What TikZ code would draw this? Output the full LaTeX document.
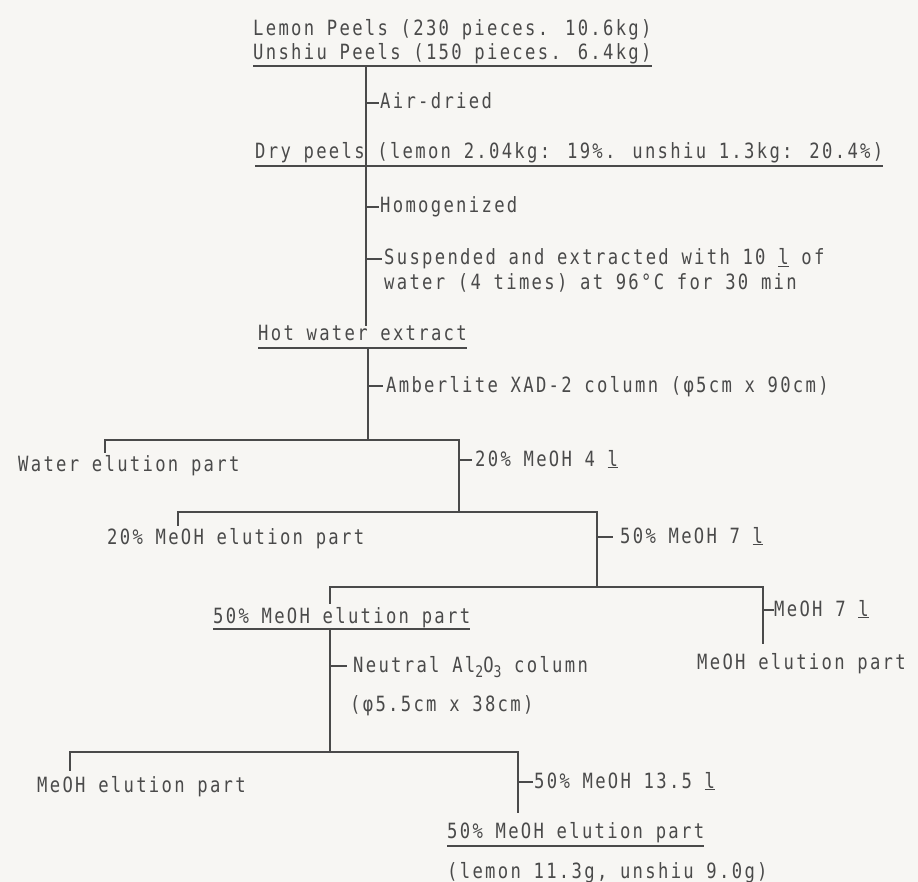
\documentclass[tikz,border=0pt]{standalone}
\usepackage{fontspec}
\newfontfamily\mono[FakeStretch=0.82,LetterSpace=11]{DejaVu Sans Mono}
\usetikzlibrary{calc}
\definecolor{ink}{HTML}{4A4A4A}
\definecolor{paper}{HTML}{F7F6F3}
\newcommand\sbs[1]{\raisebox{-5pt}{\fontsize{16}{16}\selectfont #1}}
\newcommand\lit{\underline{l}}
\begin{document}
\begin{tikzpicture}[x=1pt,y=-1pt,
  txt/.style={anchor=base west,inner sep=0pt,text=ink,font=\mono\fontsize{21}{25}\selectfont},
  ln/.style={draw=ink,line width=1.5pt,line cap=rect},
  ul/.style={draw=ink,line width=1.3pt}]
\fill[paper] (0,0) rectangle (918,882);
\useasboundingbox (0,0) rectangle (918,882);
% top
\node[txt] (p1) at (253,36) {Lemon Peels (230 pieces. 10.6kg)};
\node[txt] (p2) at (253,60) {Unshiu Peels (150 pieces. 6.4kg)};
\draw[ul] ($(p2.base west)+(0,6)$) -- ($(p2.base east)+(0,6)$);
\coordinate (v0) at (366,66);
\coordinate (v1) at (366,166);
\draw[ln] (v0) -- (v1);
\coordinate (k1) at (366,103);
\draw[ln] (k1) -- ++(12,0);
\node[txt] (air) at (380,109) {Air-dried};
\node[txt] (dry) at (255,159) {Dry peels (lemon 2.04kg: 19\%. unshiu 1.3kg: 20.4\%)};
\draw[ul] ($(dry.base west)+(0,7)$) -- ($(dry.base east)+(0,7)$);
\coordinate (k2) at (366,207);
\draw[ln] (k2) -- ++(12,0);
\node[txt] (hom) at (380,213) {Homogenized};
\coordinate (k3) at (366,259);
\draw[ln] (k3) -- ++(15,0);
\node[txt] (sus) at (384,265) {Suspended and extracted with 10 \lit{} of};
\node[txt] (wat) at (384,290) {water (4 times) at 96°C for 30 min};
\node[txt] (hot) at (258,341) {Hot water extract};
\draw[ul] ($(hot.base west)+(0,7)$) -- ($(hot.base east)+(0,7)$);
\draw[ln] (v1) -- (v1 |- hot.north);
% amberlite
\coordinate (v2) at (368,348);
\coordinate (j1) at (368,440);
\draw[ln] (v2) -- (j1);
\coordinate (k4) at (368,386);
\draw[ln] (k4) -- ++(14,0);
\node[txt] (amb) at (386,392) {Amberlite XAD-2 column (φ5cm x 90cm)};
% first split
\coordinate (h1l) at (105,440);
\coordinate (h1r) at (459,440);
\draw[ln] (h1l) -- (h1r);
\draw[ln] (h1l) -- ++(0,12);
\node[txt] (wep) at (18,471) {Water elution part};
\coordinate (j2) at (459,512);
\draw[ln] (h1r) -- (j2);
\coordinate (k5) at (459,460);
\draw[ln] (k5) -- ++(12,0);
\node[txt] (m20) at (475,466) {20\% MeOH 4 \lit};
% second split
\coordinate (h2l) at (178,512);
\draw[ln] (h2l) -- (j2);
\draw[ln] (h2l) -- ++(0,13);
\node[txt] (e20) at (107,544) {20\% MeOH elution part};
\coordinate (j3) at (597,512);
\coordinate (j3b) at (597,587);
\draw[ln] (j2) -- (j3);
\draw[ln] (j3) -- (j3b);
\coordinate (k6) at (597,537);
\draw[ln] (k6) -- ++(15,0);
\node[txt] (m50) at (620,543) {50\% MeOH 7 \lit};
% third split
\coordinate (h3l) at (330,587);
\coordinate (h3r) at (763,587);
\draw[ln] (h3l) -- (h3r);
\draw[ln] (h3l) -- ++(0,16);
\node[txt] (e50) at (213,623) {50\% MeOH elution part};
\draw[ul] ($(e50.base west)+(0,6)$) -- ($(e50.base east)+(0,6)$);
\coordinate (j4) at (763,643);
\draw[ln] (h3r) -- (j4);
\coordinate (k7) at (763,610);
\draw[ln] (k7) -- ++(10,0);
\node[txt] (m7) at (774,616) {MeOH 7 \lit};
\node[txt] (emr) at (697,669) {MeOH elution part};
% alumina column
\coordinate (v3) at (330,629);
\coordinate (j5) at (330,752);
\draw[ln] (v3) -- (j5);
\coordinate (k8) at (330,666);
\draw[ln] (k8) -- ++(16,0);
\node[txt] (neu) at (353,672) {Neutral Al\sbs{2}O\sbs{3} column};
\node[txt] (dim) at (350,711) {(φ5.5cm x 38cm)};
% fourth split
\coordinate (h4l) at (70,752);
\coordinate (h4r) at (518,752);
\draw[ln] (h4l) -- (h4r);
\draw[ln] (h4l) -- ++(0,18);
\node[txt] (eml) at (37,792) {MeOH elution part};
\coordinate (j6) at (518,812);
\draw[ln] (h4r) -- (j6);
\coordinate (k9) at (518,782);
\draw[ln] (k9) -- ++(14,0);
\node[txt] (m135) at (534,788) {50\% MeOH 13.5 \lit};
\node[txt] (fin) at (447,838) {50\% MeOH elution part};
\draw[ul] ($(fin.base west)+(0,8)$) -- ($(fin.base east)+(0,8)$);
\node[txt] (yld) at (447,878) {(lemon 11.3g, unshiu 9.0g)};
\end{tikzpicture}
\end{document}
